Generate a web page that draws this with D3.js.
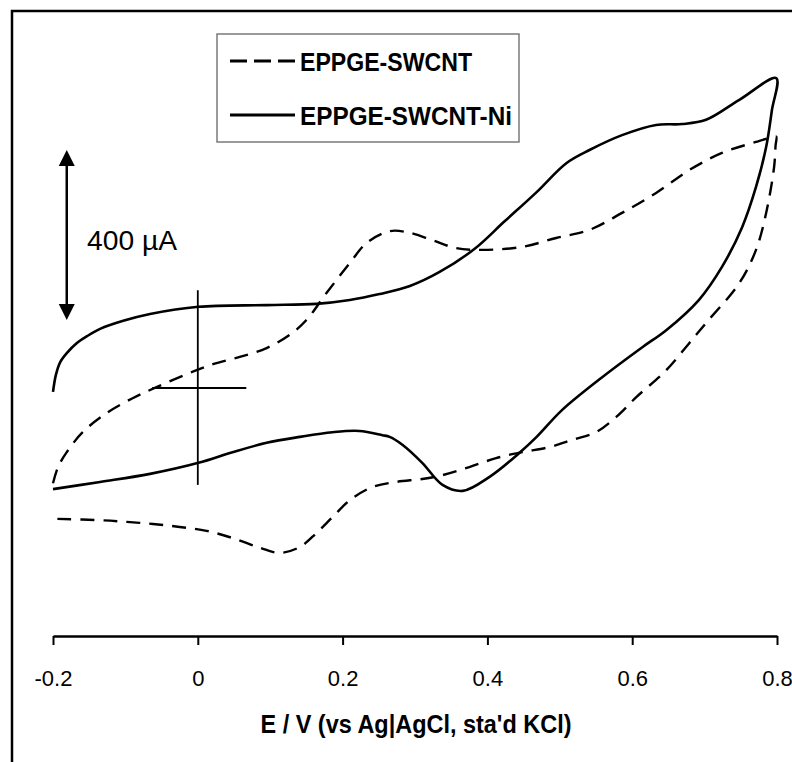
<!DOCTYPE html>
<html>
<head>
<meta charset="utf-8">
<script src="https://cdn.jsdelivr.net/npm/d3@7"></script>
<style>
  body { margin: 0; background: #fff; }
  svg { display: block; }
  text { font-family: "Liberation Sans", Arial, sans-serif; fill: #000; }
</style>
</head>
<body>
<svg id="chart" width="792" height="762"></svg>
<script>
// Cyclic voltammograms: potential E (V vs Ag|AgCl) and current I (µA)
// EPPGE-SWCNT (dashed): anodic sweep then cathodic return
const swcntE = [-0.200,-0.193,-0.181,-0.159,-0.126,-0.090,-0.057,-0.015,0.021,0.058,0.095,0.127,0.150,0.178,0.210,0.233,0.265,0.288,0.324,0.357,0.393,0.448,0.495,0.541,0.586,0.633,0.679,0.724,0.771,0.796,0.799,
  0.798,0.796,0.785,0.771,0.748,0.702,0.679,0.647,0.606,0.578,0.550,0.517,0.486,0.448,0.412,0.375,0.338,0.310,0.274,0.241,0.210,0.186,0.164,0.141,0.113,0.086,0.048,0.012,-0.025,-0.062,-0.098,-0.135,-0.194,-0.200];
const swcntI = [-224,-186,-151,-104,-59,-24,2,33,56,73,94,125,160,224,294,341,369,367,348,329,325,332,353,372,412,459,513,553,579,591,591,
  570,520,412,325,247,153,106,42,-21,-68,-104,-122,-139,-151,-165,-186,-205,-214,-221,-233,-264,-304,-341,-374,-388,-376,-353,-336,-327,-320,-315,-311,-308,-308];

// EPPGE-SWCNT-Ni (solid)
const niE = [-0.200,-0.196,-0.190,-0.181,-0.167,-0.153,-0.135,-0.103,-0.066,0.001,0.095,0.164,0.210,0.251,0.293,0.334,0.382,0.423,0.468,0.509,0.541,0.586,0.633,0.669,0.702,0.748,0.799,
  0.793,0.785,0.771,0.752,0.724,0.692,0.647,0.614,0.559,0.503,0.468,0.444,0.403,0.366,0.338,0.310,0.283,0.265,0.255,0.223,0.186,0.141,0.095,0.048,0.001,-0.066,-0.135,-0.200];
const niI = [-9,31,61,82,106,122,139,158,174,191,195,198,207,221,240,273,327,391,461,529,560,595,619,621,631,678,729,
  654,567,473,379,285,207,136,96,26,-52,-115,-153,-209,-242,-228,-176,-134,-115,-111,-101,-104,-115,-129,-151,-176,-202,-221,-238];

const tickValues = [-0.2, 0, 0.2, 0.4, 0.6, 0.8];
const legendLabels = ["EPPGE-SWCNT", "EPPGE-SWCNT-Ni"];
const axisTitle = "E / V (vs Ag|AgCl, sta'd KCl)";
const scaleBar = { E: -0.181, from: 160, to: 560, label: "400 µA" };
const origin = { eFrom: -0.063, eTo: 0.067, iFrom: -228, iTo: 230 };

const svg = d3.select("#chart");
const x = d3.scaleLinear().domain([-0.2, 0.8]).range([53, 777]);
const y = d3.scaleLinear().domain([-600, 800]).range([643, 48]);

// outer frame (left and top edges visible)
svg.append("path")
  .attr("d", "M12,762V11H792")
  .attr("fill", "none").attr("stroke", "#000").attr("stroke-width", 2.5);

// x axis
const axisY = 636;
const xAxis = d3.axisBottom(x)
  .tickValues(tickValues)
  .tickSize(9).tickSizeOuter(0).tickPadding(25)
  .tickFormat(d => d === 0 ? "0" : String(d));
const ax = svg.append("g").attr("transform", `translate(0,${axisY})`).call(xAxis);
ax.select(".domain").attr("stroke", "#000").attr("stroke-width", 2.5);
ax.selectAll(".tick line").attr("stroke", "#000").attr("stroke-width", 2);
ax.selectAll(".tick text")
  .style("font-family", "'Liberation Sans', Arial, sans-serif")
  .style("font-size", "22px").attr("fill", "#000");

svg.append("text")
  .attr("x", 416).attr("y", 733)
  .attr("text-anchor", "middle")
  .attr("textLength", 311).attr("lengthAdjust", "spacingAndGlyphs")
  .style("font-size", "25px").style("font-weight", "bold")
  .text(axisTitle);

// zero-current / zero-potential cross
svg.append("line")
  .attr("x1", x(0)).attr("x2", x(0))
  .attr("y1", y(origin.iTo)).attr("y2", y(origin.iFrom))
  .attr("stroke", "#000").attr("stroke-width", 1.8);
svg.append("line")
  .attr("x1", x(origin.eFrom)).attr("x2", x(origin.eTo))
  .attr("y1", y(0)).attr("y2", y(0))
  .attr("stroke", "#000").attr("stroke-width", 1.8);

// curves
const line = d3.line().x(d => x(d[0])).y(d => y(d[1])).curve(d3.curveCatmullRom.alpha(0.5));
const swcnt = swcntE.map((e, i) => [e, swcntI[i]]);
const ni = niE.map((e, i) => [e, niI[i]]);

svg.append("path").datum(swcnt)
  .attr("d", line).attr("fill", "none")
  .attr("stroke", "#000").attr("stroke-width", 2.4)
  .attr("stroke-dasharray", "14,9");
svg.append("path").datum(ni)
  .attr("d", line).attr("fill", "none")
  .attr("stroke", "#000").attr("stroke-width", 2.6);

// current scale bar
const sbx = x(scaleBar.E), sbTop = y(scaleBar.to), sbBot = y(scaleBar.from);
const head = 16, half = 8;
svg.append("line")
  .attr("x1", sbx).attr("x2", sbx)
  .attr("y1", sbTop + head - 2).attr("y2", sbBot - head + 2)
  .attr("stroke", "#000").attr("stroke-width", 2.5);
svg.append("path")
  .attr("d", `M${sbx},${sbTop}L${sbx - half},${sbTop + head}L${sbx + half},${sbTop + head}Z`)
  .attr("fill", "#000");
svg.append("path")
  .attr("d", `M${sbx},${sbBot}L${sbx - half},${sbBot - head}L${sbx + half},${sbBot - head}Z`)
  .attr("fill", "#000");
svg.append("text")
  .attr("x", 87).attr("y", 250)
  .attr("textLength", 90).attr("lengthAdjust", "spacingAndGlyphs")
  .style("font-size", "27px")
  .text(scaleBar.label);

// legend
const legend = svg.append("g");
legend.append("rect")
  .attr("x", 217).attr("y", 34).attr("width", 302).attr("height", 108)
  .attr("fill", "#fff").attr("stroke", "#7a7a7a").attr("stroke-width", 1.5);
const legendRows = [
  { label: legendLabels[0], dash: "17,7", ly: 61, ty: 71, len: 172 },
  { label: legendLabels[1], dash: null, ly: 115, ty: 124.5, len: 212 }
];
legendRows.forEach(r => {
  legend.append("line")
    .attr("x1", 230).attr("x2", 295).attr("y1", r.ly).attr("y2", r.ly)
    .attr("stroke", "#000").attr("stroke-width", 3)
    .attr("stroke-dasharray", r.dash);
  legend.append("text")
    .attr("x", 300).attr("y", r.ty)
    .attr("textLength", r.len).attr("lengthAdjust", "spacingAndGlyphs")
    .style("font-size", "25px").style("font-weight", "bold")
    .text(r.label);
});
</script>
</body>
</html>
